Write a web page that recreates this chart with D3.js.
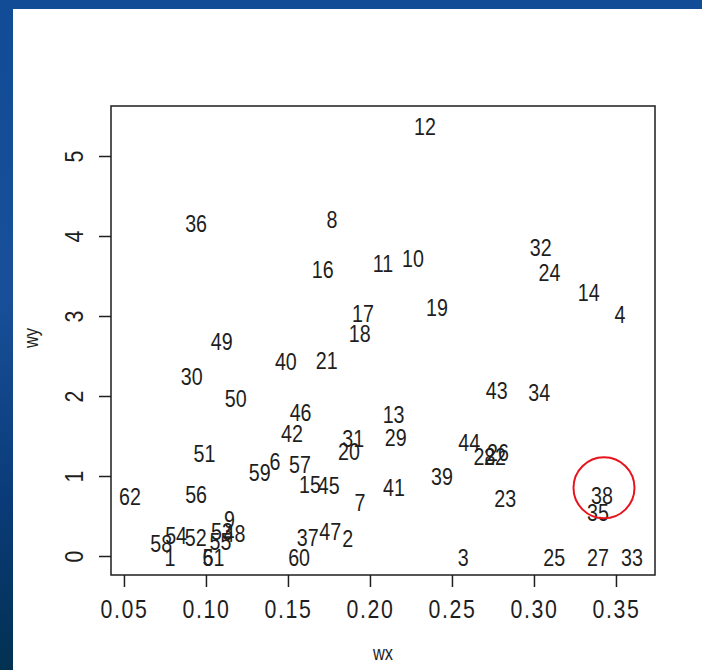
<!DOCTYPE html>
<html><head><meta charset="utf-8">
<script src="https://cdn.jsdelivr.net/npm/d3@7/dist/d3.min.js"></script>
<style>html,body{margin:0;padding:0;overflow:hidden;background:#0f4a92;}</style>
</head><body>
<script>
const ids = d3.range(1, 63).map(String);
const wx = [0.078,0.1864,0.2569,0.3524,0.1012,0.1421,0.1939,0.1768,0.1143,0.2262,
  0.2079,0.2335,0.2144,0.3334,0.1634,0.1712,0.1957,0.1937,0.2409,0.1872,
  0.1736,0.2762,0.2825,0.3095,0.3123,0.278,0.339,0.2698,0.2157,0.0913,
  0.1898,0.3041,0.3598,0.3032,0.339,0.094,0.1621,0.3415,0.2439,0.1487,
  0.2146,0.1524,0.2773,0.2605,0.1749,0.1577,0.1758,0.1174,0.1096,0.1182,
  0.0991,0.0938,0.1098,0.0818,0.1088,0.094,0.1573,0.0727,0.1328,0.1568,
  0.1046,0.0537];
const wy = [0,0.234,0,3.041,0,1.204,0.684,4.229,0.475,3.734,
  3.677,5.391,1.7875,3.316,0.916,3.598,3.052,2.806,3.121,1.331,
  2.465,1.269,0.734,3.566,0,1.319,0,1.269,1.496,2.265,
  1.485,3.875,0,2.0625,0.569,4.177,0.25,0.775,1.015,2.454,
  0.881,1.556,2.084,1.434,0.904,1.8125,0.329,0.306,2.704,1.984,
  1.2975,0.246,0.331,0.275,0.206,0.7875,1.1625,0.181,1.066,0,
  0,0.769];
const xTicks = [0.05,0.10,0.15,0.20,0.25,0.30,0.35];
const yTicks = [0,1,2,3,4,5];
const highlight = [{x:0.3427, y:0.8525}];
const xTitle = "wx", yTitle = "wy";

const W = 702, H = 670;
const font = "'Liberation Sans',Arial,sans-serif";
const SX = 0.82;
const ink = "#1e1e1e";
const svg = d3.select("body").append("svg").attr("width", W).attr("height", H);
const defs = svg.append("defs");
const g = defs.append("linearGradient").attr("id","bg").attr("x1",0).attr("y1",0).attr("x2",0).attr("y2",1);
g.append("stop").attr("offset","0%").attr("stop-color","#124c96");
g.append("stop").attr("offset","45%").attr("stop-color","#184f98");
g.append("stop").attr("offset","75%").attr("stop-color","#0a3b78");
g.append("stop").attr("offset","100%").attr("stop-color","#023152");
svg.append("rect").attr("width",W).attr("height",H).attr("fill","url(#bg)");
svg.append("rect").attr("x",13).attr("y",9).attr("width",W-13).attr("height",H-9).attr("fill","#fff");

const x = d3.scaleLinear().domain([0.0421, 0.3738]).range([111, 655]);
const y = d3.scaleLinear().domain([-0.2375, 5.625]).range([575, 106]);

// box
svg.append("rect").attr("x",111).attr("y",106).attr("width",544).attr("height",469)
  .attr("fill","none").attr("stroke",ink).attr("stroke-width",1.5);

// x axis
const xa = svg.append("g").attr("transform","translate(0,575)")
  .call(d3.axisBottom(x).tickValues(xTicks).tickSize(12).tickPadding(13).tickFormat(d3.format(".2f")));
xa.select(".domain").remove();
xa.selectAll("line").attr("stroke",ink).attr("stroke-width",1.5);
xa.selectAll("text").attr("font-family",font).attr("font-size",26).attr("fill",ink)
  .attr("letter-spacing","2px").attr("dy","0.71em").attr("transform",`scale(${SX},1)`);

// y axis
const ya = svg.append("g").attr("transform","translate(111,0)")
  .call(d3.axisLeft(y).tickValues(yTicks).tickSize(12).tickFormat(d3.format("d")));
ya.select(".domain").remove();
ya.selectAll("line").attr("stroke",ink).attr("stroke-width",1.5);
ya.selectAll("text").attr("x",null).attr("dy",null)
  .attr("text-anchor","middle").attr("transform",`translate(-28,0) rotate(-90) scale(${SX},1)`)
  .attr("font-family",font).attr("font-size",26).attr("fill",ink);

// titles
svg.append("text").attr("transform",`translate(383,660) scale(${SX},1)`).attr("text-anchor","middle")
  .attr("font-family",font).attr("font-size",20).attr("fill",ink).text(xTitle);
svg.append("text").attr("transform",`translate(38,338) rotate(-90) scale(${SX},1)`).attr("text-anchor","middle")
  .attr("font-family",font).attr("font-size",20).attr("fill",ink).text(yTitle);

// labels
svg.append("g").selectAll("text").data(ids).join("text")
  .attr("transform",(d,i)=>`translate(${x(wx[i])},${y(wy[i]) + 1.5 + 8.6}) scale(${SX},1)`)
  .attr("text-anchor","middle").attr("font-family",font).attr("font-size",24).attr("fill",ink)
  .text(d=>d);

// highlight circle
svg.append("g").selectAll("circle").data(highlight).join("circle")
  .attr("cx",d=>x(d.x)).attr("cy",d=>y(d.y)).attr("r",30.5)
  .attr("fill","none").attr("stroke","#e8141c").attr("stroke-width",2);
</script>
</body></html>
